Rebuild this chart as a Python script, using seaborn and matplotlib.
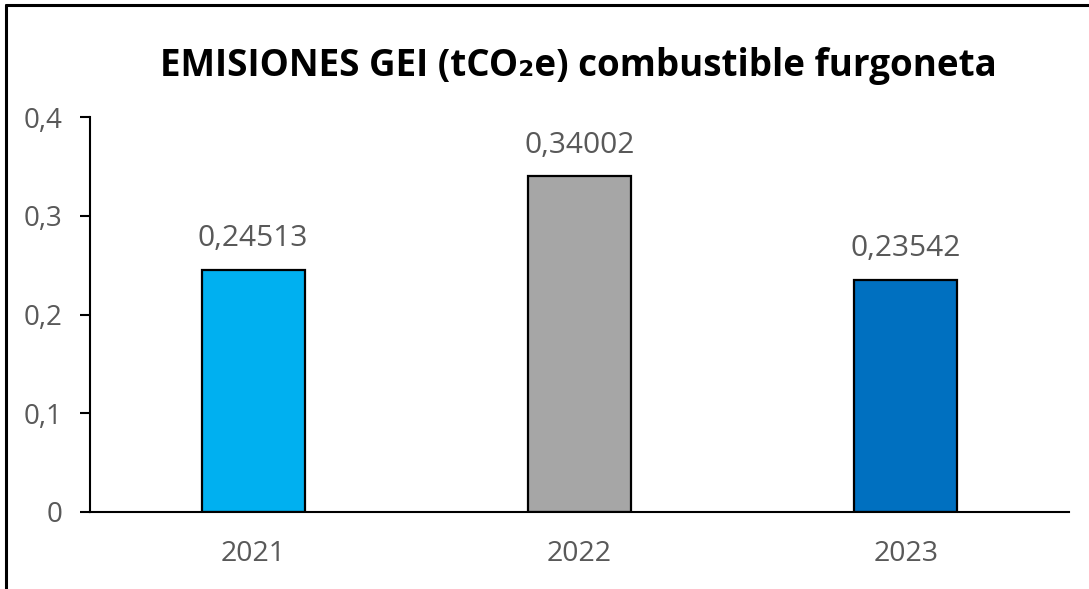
import matplotlib
matplotlib.use("Agg")
import matplotlib.pyplot as plt
import seaborn as sns
import pandas as pd

years = ["2021", "2022", "2023"]
values = [0.24513, 0.34002, 0.23542]
value_labels = ["0,24513", "0,34002", "0,23542"]
bar_colors = ["#00B0F0", "#A6A6A6", "#0070C0"]
y_ticks = [0, 0.1, 0.2, 0.3, 0.4]
y_tick_labels = ["0", "0,1", "0,2", "0,3", "0,4"]
title = "EMISIONES GEI (tCO\u2082e) combustible furgoneta"

sns.set_style("white")
plt.rcParams['font.family'] = ['Open Sans', 'DejaVu Sans']

df = pd.DataFrame({"year": years, "value": values})

fig = plt.figure(figsize=(10.89, 5.89), dpi=100)
ax = fig.add_axes([90/1089, 1-512/589, (1069-90)/1089, (512-117)/589])

sns.barplot(data=df, x="year", y="value", hue="year", palette=bar_colors,
            legend=False, width=0.316, edgecolor="black", linewidth=1.6,
            saturation=1, ax=ax)

ax.set_xlim(-0.5, 2.5)
ax.set_ylim(0, 0.4)
ax.set_yticks(y_ticks)
ax.set_yticklabels(y_tick_labels)
ax.set_xlabel("")
ax.set_ylabel("")

grey = "#595959"
ax.tick_params(axis="y", length=7, width=1.5, color="black", pad=13,
               labelsize=20, labelcolor=grey, direction="out", left=True)
ax.tick_params(axis="x", length=0, pad=20, labelsize=20.5, labelcolor=grey)

for s in ["top", "right"]:
    ax.spines[s].set_visible(False)
for s in ["left", "bottom"]:
    ax.spines[s].set_visible(True)
    ax.spines[s].set_color("black")
    ax.spines[s].set_linewidth(1.5)

for i, (v, lab) in enumerate(zip(values, value_labels)):
    ax.annotate(lab, (i, v), xytext=(0, 12), textcoords="offset points",
                ha="center", va="bottom", fontsize=21.5, color=grey)

fig.text(578/1089, 1-66/589, title, ha="center", va="center",
         fontsize=26.5, fontweight="bold", color="black",
         family=['Open Sans', 'DejaVu Sans'])

# figure border (top and left visible, rest cropped)
fig.add_artist(plt.Line2D([6/1089, 6/1089], [0, 1-5/589], color="black",
                          linewidth=2.2, transform=fig.transFigure))
fig.add_artist(plt.Line2D([6/1089, 1], [1-5/589, 1-5/589], color="black",
                          linewidth=2.2, transform=fig.transFigure))

fig.savefig("out.png", dpi=100)
